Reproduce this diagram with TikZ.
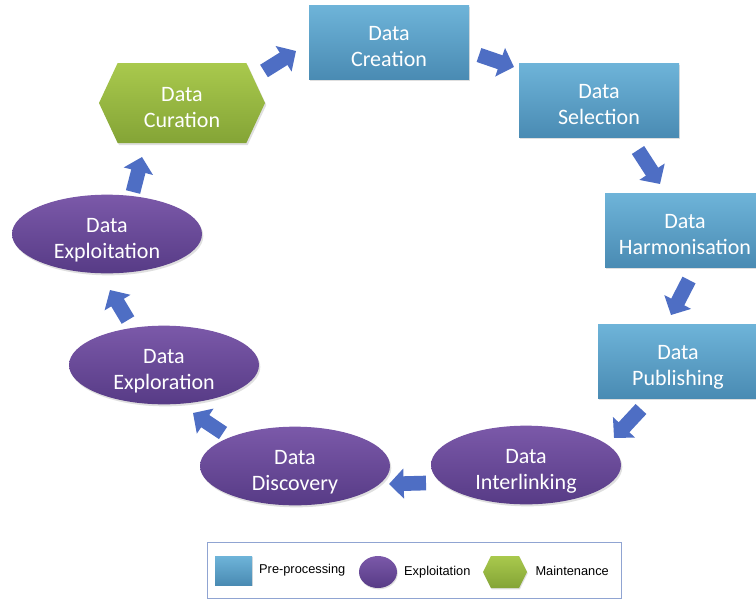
\documentclass[tikz,border=0pt]{standalone}
\usepackage{fontspec}
\setmainfont{Carlito}
\newfontfamily\legendfont{Liberation Sans}
\usetikzlibrary{arrows.meta,positioning,shapes.geometric,shapes.symbols,shadows}
\definecolor{pretop}{HTML}{6EB4D9}
\definecolor{prebot}{HTML}{4A8BB3}
\definecolor{exptop}{HTML}{7B59A9}
\definecolor{expbot}{HTML}{573B86}
\definecolor{maintop}{HTML}{A9C94D}
\definecolor{mainbot}{HTML}{84A436}
\definecolor{flowblue}{HTML}{4E6EC4}
\definecolor{legline}{HTML}{90A4D2}

\begin{document}
\begin{tikzpicture}[x=0.75pt,y=-0.75pt,
    stage/.style={text=white,font=\fontsize{16.5}{20}\selectfont,align=center,inner sep=0pt,
        text height=37pt,text depth=0pt,
        drop shadow={opacity=0.25,shadow xshift=1pt,shadow yshift=-1.5pt}},
    pre/.style={stage,rectangle,minimum width=120pt,minimum height=55.5pt,top color=pretop,bottom color=prebot},
    expl/.style={stage,ellipse,minimum width=142.5pt,minimum height=59pt,top color=exptop,bottom color=expbot},
    maint/.style={stage,signal,signal to=east and west,signal pointer angle=130,
        minimum width=124.5pt,minimum height=60pt,top color=maintop,bottom color=mainbot},
    flow/.style={line width=11pt,color=flowblue,-{Triangle[width=22pt,length=11pt]}},
    legtext/.style={font=\legendfont\fontsize{9.6}{11}\selectfont,inner sep=0pt,anchor=west,
        text height=7pt,text depth=2pt}]
    \path[use as bounding box,fill=white] (0,0) rectangle (756,604);

    % stages of the cycle
    \node[pre] (cre) at (389,42) {Data\\Creation};
    \node[pre] (sel) at (599,100) {Data\\Selection};
    \node[pre] (har) at (685,230) {Data\\Harmonisation};
    \node[pre] (pub) at (678,361) {Data\\Publishing};
    \node[expl] (int) at (526,465) {Data\\Interlinking};
    \node[expl] (dis) at (295,466) {Data\\Discovery};
    \node[expl] (exr) at (164,365) {Data\\Exploration};
    \node[expl] (exi) at (107,234) {Data\\Exploitation};
    \node[maint] (cur) at (182,103) {Data\\Curation};

    % block arrows
    \coordinate (t1) at (264,71);  \coordinate (h1) at (296,51);
    \coordinate (t2) at (479,55);  \coordinate (h2) at (514,67);
    \coordinate (t3) at (638,150); \coordinate (h3) at (660,184);
    \coordinate (t4) at (689,280); \coordinate (h4) at (671,315);
    \coordinate (t5) at (641,409); \coordinate (h5) at (614,438);
    \coordinate (t6) at (426,483); \coordinate (h6) at (389,484);
    \coordinate (t7) at (223,433); \coordinate (h7) at (193,413);
    \coordinate (t8) at (128,320); \coordinate (h8) at (110,290);
    \coordinate (t9) at (133,192); \coordinate (h9) at (142,157);
    \draw[flow] (t1) -- (h1);
    \draw[flow] (t2) -- (h2);
    \draw[flow] (t3) -- (h3);
    \draw[flow] (t4) -- (h4);
    \draw[flow] (t5) -- (h5);
    \draw[flow] (t6) -- (h6);
    \draw[flow] (t7) -- (h7);
    \draw[flow] (t8) -- (h8);
    \draw[flow] (t9) -- (h9);

    % legend
    \node[draw=legline,line width=0.6pt,minimum width=310.5pt,minimum height=42pt] (legend) at (414,570) {};
    \node[rectangle,minimum width=27.75pt,minimum height=21.75pt,top color=pretop,bottom color=prebot,
        drop shadow={opacity=0.25,shadow xshift=0.6pt,shadow yshift=-1pt}] (lpre) at (233.5,570.5) {};
    \node[legtext,right=5pt of lpre] (tpre) {Pre-processing};
    \node[ellipse,inner sep=0pt,minimum width=28.5pt,minimum height=24pt,top color=exptop,bottom color=expbot,
        drop shadow={opacity=0.25,shadow xshift=0.6pt,shadow yshift=-1pt}] (lexp) at (378,572) {};
    \node[legtext,right=5pt of lexp] (texp) {Exploitation};
    \node[signal,signal to=east and west,signal pointer angle=127,inner sep=0pt,minimum width=33pt,minimum height=24pt,
        top color=maintop,bottom color=mainbot,
        drop shadow={opacity=0.25,shadow xshift=0.6pt,shadow yshift=-1pt}] (lmai) at (505,572) {};
    \node[legtext,right=6pt of lmai] (tmai) {Maintenance};
\end{tikzpicture}
\end{document}
